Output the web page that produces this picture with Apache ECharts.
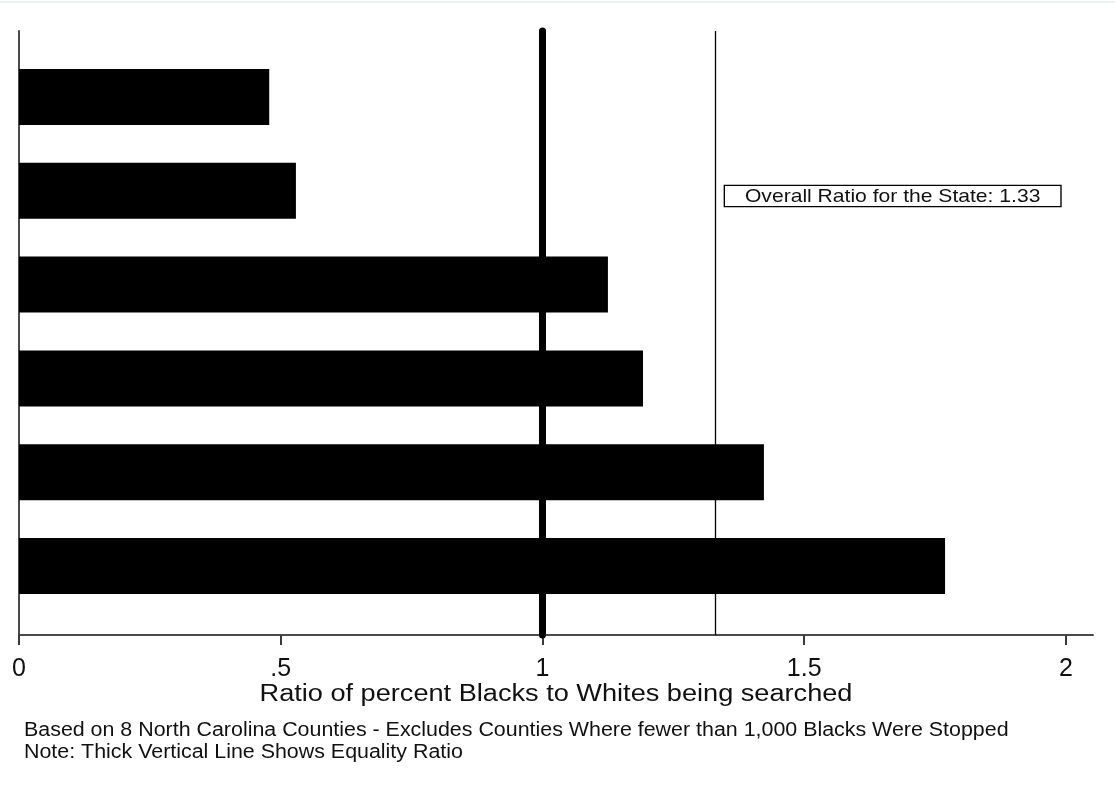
<!DOCTYPE html>
<html>
<head>
<meta charset="utf-8">
<script src="https://cdn.jsdelivr.net/npm/echarts@6/dist/echarts.min.js"></script>
<style>
html,body{margin:0;padding:0;background:#fff;}
#chart{width:1115px;height:793px;}
</style>
</head>
<body>
<div id="chart"></div>
<script>
// Data
var counties = ['C1', 'C2', 'C3', 'C4', 'C5', 'C6'];
var ratios = [0.478, 0.529, 1.125, 1.192, 1.423, 1.769];
var tickValues = [0, 0.5, 1, 1.5, 2];
var tickLabels = ['0', '.5', '1', '1.5', '2'];
var equalityRatio = 1;
var stateRatio = 1.33;
var axisTitle = 'Ratio of percent Blacks to Whites being searched';
var annotation = 'Overall Ratio for the State: 1.33';
var notes = [
  'Based on 8 North Carolina Counties - Excludes Counties Where fewer than 1,000 Blacks Were Stopped',
  'Note: Thick Vertical Line Shows Equality Ratio'
];

var FONT = 'Arial, "Liberation Sans", sans-serif';
var XMAX = 2.0516;
var chart = echarts.init(document.getElementById('chart'), null, {renderer: 'canvas'});

var option = {
  backgroundColor: '#ffffff',
  animation: false,
  grid: [
    {left: 19, top: 31, width: 1074, height: 604, containLabel: false},
    {left: 19, top: 50, width: 1074, height: 563, containLabel: false}
  ],
  xAxis: [
    {
      gridIndex: 0, type: 'value', min: 0, max: XMAX,
      axisLine: {show: true, lineStyle: {color: '#4a4a4a', width: 2}},
      axisTick: {show: true, length: 10, customValues: tickValues, lineStyle: {color: '#3a3a3a', width: 2}},
      axisLabel: {
        show: true, customValues: tickValues, margin: 22,
        fontSize: 25, fontFamily: FONT, color: '#111',
        formatter: function (v) {
          var i = tickValues.indexOf(v);
          return i >= 0 ? tickLabels[i] : '';
        }
      },
      splitLine: {show: false}
    },
    {
      gridIndex: 1, type: 'value', min: 0, max: XMAX, show: false,
      splitLine: {show: false}
    }
  ],
  yAxis: [
    {
      gridIndex: 0, type: 'value', min: 0, max: 1,
      axisLine: {show: true, lineStyle: {color: '#4a4a4a', width: 2}},
      axisTick: {show: false}, axisLabel: {show: false}, splitLine: {show: false}
    },
    {
      gridIndex: 1, type: 'category', data: counties, inverse: true, show: false
    }
  ],
  series: [
    {
      type: 'bar', xAxisIndex: 1, yAxisIndex: 1,
      data: ratios, barWidth: 56,
      itemStyle: {color: '#000'}
    },
    {
      type: 'line', xAxisIndex: 0, yAxisIndex: 0, data: [],
      markLine: {
        silent: true, symbol: ['none', 'none'],
        label: {show: false},
        data: [
          {xAxis: equalityRatio, lineStyle: {color: '#000', width: 7, type: 'solid', cap: 'round'}},
          {xAxis: stateRatio, lineStyle: {color: '#000', width: 1.3, type: 'solid'}}
        ]
      }
    }
  ],
  graphic: [
    {type: 'rect', left: 0, top: 1, shape: {width: 1115, height: 2}, style: {fill: '#eef2f2'}},
    {
      type: 'text', x: 725, y: 186, scaleX: 1.14,
      style: {
        text: annotation, font: '18.5px ' + FONT, fill: '#111',
        backgroundColor: '#fff', borderColor: '#000', borderWidth: 1.2,
        padding: [1, 17.5, 0, 17.5]
      }
    },
    {
      type: 'text', x: 556, y: 695, scaleX: 1.155,
      style: {
        text: axisTitle, font: '23.5px ' + FONT, fill: '#111',
        textAlign: 'center', textVerticalAlign: 'middle'
      }
    },
    {
      type: 'text', x: 24, y: 719, scaleX: 1.07,
      style: {text: notes[0] + '\n' + notes[1], font: '20px ' + FONT, fill: '#111', lineHeight: 22}
    }
  ]
};
chart.setOption(option);
</script>
</body>
</html>
